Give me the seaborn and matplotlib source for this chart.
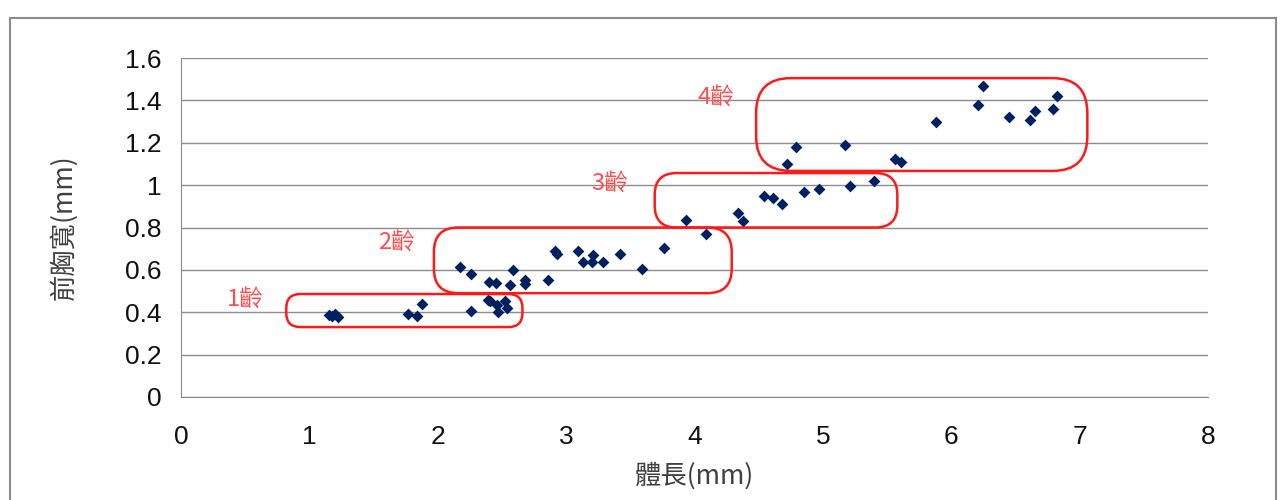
import seaborn as sns
import matplotlib.pyplot as plt
import pandas as pd
from matplotlib.patches import FancyBboxPatch, Rectangle

# body length (mm) and front thorax width (mm)
body_length = [1.15, 1.18, 1.20, 1.22, 1.77, 1.84, 1.88, 2.26, 2.39, 2.41,
               2.46, 2.47, 2.52, 2.54, 2.17, 2.26, 2.40, 2.45, 2.56, 2.59,
               2.68, 2.68, 2.86, 2.91, 2.93, 3.09, 3.13, 3.20, 3.21, 3.29,
               3.42, 3.59, 3.76, 4.09, 3.93, 4.34, 4.38, 4.54, 4.61, 4.68,
               4.85, 4.97, 5.21, 5.40, 4.72, 4.79, 5.17, 5.56, 5.61, 5.88,
               6.21, 6.25, 6.45, 6.61, 6.65, 6.79, 6.82]
thorax_width = [0.385, 0.38, 0.39, 0.378, 0.392, 0.382, 0.439, 0.406, 0.458, 0.453,
                0.434, 0.40, 0.453, 0.42, 0.612, 0.579, 0.544, 0.539, 0.529, 0.60,
                0.552, 0.533, 0.552, 0.690, 0.673, 0.690, 0.636, 0.636, 0.670, 0.637,
                0.675, 0.604, 0.702, 0.769, 0.835, 0.870, 0.831, 0.949, 0.941, 0.911,
                0.966, 0.982, 0.996, 1.018, 1.098, 1.181, 1.188, 1.122, 1.111, 1.296,
                1.377, 1.468, 1.321, 1.307, 1.351, 1.358, 1.419]

# age groups: label, label position, box extent (x0, x1, y0, y1)
age_labels = ['1齡', '2齡', '3齡', '4齡']
label_pos = [(0.50, 0.46), (1.68, 0.73), (3.34, 1.01), (4.17, 1.415)]
age_boxes = [(0.82, 2.66, 0.33, 0.486),
             (1.97, 4.29, 0.49, 0.80),
             (3.69, 5.58, 0.80, 1.057),
             (4.48, 7.06, 1.067, 1.505)]
box_radius = [0.11, 0.19, 0.17, 0.27]

df = pd.DataFrame({'length': body_length, 'width': thorax_width})

sns.set_style('white')
plt.rcParams['font.family'] = ['Liberation Sans', 'Noto Sans CJK TC', 'DejaVu Sans']
cjk = ['Noto Sans CJK TC', 'DejaVu Sans']

fig = plt.figure(figsize=(12.85, 5), dpi=100)
ax = fig.add_axes([181 / 1285, 103 / 500, 1027 / 1285, 339 / 500])

sns.scatterplot(data=df, x='length', y='width', marker='D', s=36,
                color='#002060', edgecolor='#002060', linewidth=0, ax=ax, zorder=3)

ax.set_xlim(0, 8)
ax.set_ylim(0, 1.6)
ax.set_xticks(range(0, 9))
ax.set_yticks([0, 0.2, 0.4, 0.6, 0.8, 1.0, 1.2, 1.4, 1.6])
ax.set_yticklabels(['0', '0.2', '0.4', '0.6', '0.8', '1', '1.2', '1.4', '1.6'])
ax.yaxis.grid(True, color='#8c8c8c', linewidth=1)
ax.xaxis.grid(False)
for side in ['top', 'right']:
    ax.spines[side].set_visible(False)
for side in ['left', 'bottom']:
    ax.spines[side].set_color('#8c8c8c')
ax.tick_params(axis='both', which='both', direction='out', length=8,
               color='#8c8c8c', labelsize=19, labelcolor='#111111')
ax.tick_params(axis='y', pad=6)
ax.tick_params(axis='x', pad=12)
ax.set_xlabel('體長(mm)', fontsize=19, family=cjk, color='#404040', labelpad=10)
ax.set_ylabel('前胸寬(mm)', fontsize=19, family=cjk, color='#404040', labelpad=34)

# aspect between data units so rounded corners look round on screen
xpx = 1027 / 8
ypx = 339 / 1.6
for (x0, x1, y0, y1), r in zip(age_boxes, box_radius):
    box = FancyBboxPatch((x0 + r, y0 + r * xpx / ypx),
                         (x1 - x0) - 2 * r, (y1 - y0) - 2 * r * xpx / ypx,
                         boxstyle=f'round,pad={r},rounding_size={r}',
                         mutation_aspect=xpx / ypx,
                         fill=False, edgecolor='#ff1a1a', linewidth=1.8,
                         zorder=4, clip_on=False)
    ax.add_patch(box)
for txt, (tx, ty) in zip(age_labels, label_pos):
    ax.text(tx, ty, txt, fontsize=17, family=cjk, color='#ff4d4d',
            ha='center', va='center', zorder=5)

fig.add_artist(Rectangle((10 / 1285, -0.01), 1266 / 1285, 487 / 500,
                         transform=fig.transFigure, fill=False,
                         edgecolor='#8c8c8c', linewidth=1.5))

plt.savefig('out.png', dpi=100)
